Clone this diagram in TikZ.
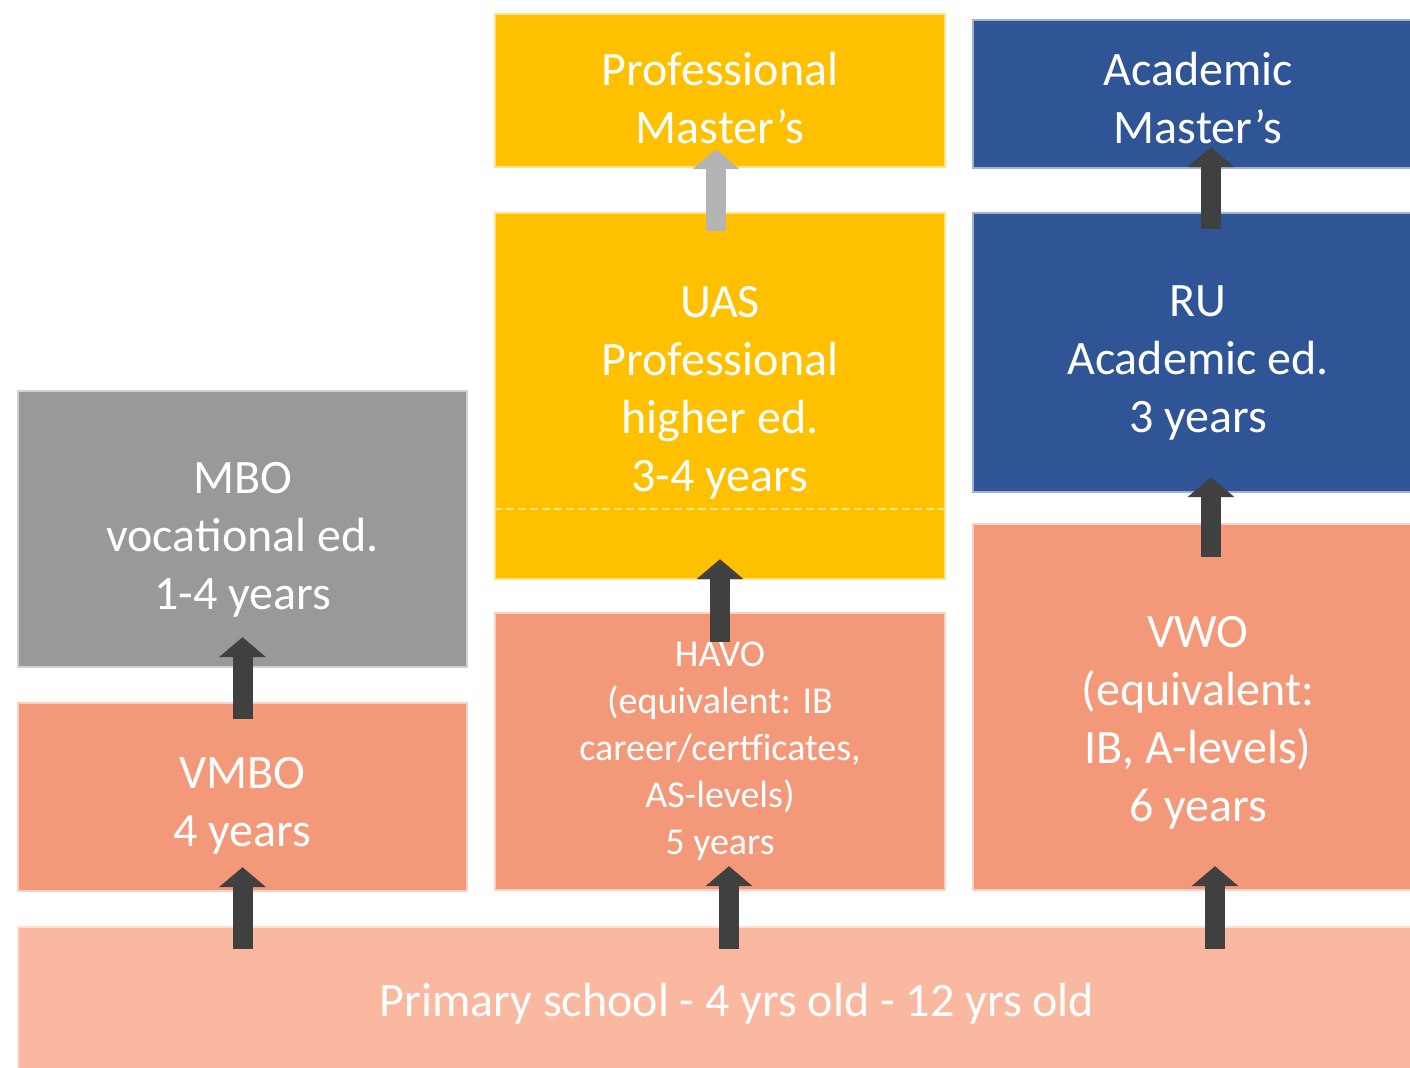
\documentclass[tikz,border=0pt]{standalone}
\usepackage{fontspec}
\setmainfont{Carlito}
\usetikzlibrary{arrows.meta}

\definecolor{primfill}{HTML}{FAB8A0}
\definecolor{salmon}{HTML}{F3997A}
\definecolor{mbogray}{HTML}{999999}
\definecolor{gold}{HTML}{FFC000}
\definecolor{navy}{HTML}{2F5597}
\definecolor{arrowdark}{HTML}{404040}
\definecolor{arrowlight}{HTML}{B4B4B4}

\tikzset{
    x=0.5pt, y=-0.5pt,
    box/.style={draw=#1!45!white, fill=#1, line width=1.2pt,
        inner sep=0pt, minimum width=225pt},
    boxtext/.style={text=white, align=center, inner sep=0pt,
        font=\fontsize{24}{29}\selectfont},
    uparrow/.style={line width=10pt, draw=#1,
        -{Triangle[width=23pt, length=10pt]}},
    uparrow/.default=arrowdark
}

\begin{document}
\begin{tikzpicture}
        \useasboundingbox (0,0) rectangle (1410,1068);
        \clip (0,0) rectangle (1410,1068);
        \node [box=primfill, minimum width=719pt, minimum height=76.5pt] (prim) at (737,1003.5) {};
        \node [box=salmon, minimum width=224.5pt, minimum height=94pt] (vmbo) at (242.5,797) {};
        \node [box=mbogray, minimum width=224.5pt, minimum height=138pt] (mbo) at (242.5,529) {};
        \node [box=salmon, minimum height=138.5pt] (havo) at (720,751.5) {};
        \node [box=gold, minimum height=183pt] (uas) at (720,396) {};
        \node [box=gold, minimum height=76.5pt] (pm) at (720,90.5) {};
        \node [box=salmon, minimum height=183pt] (vwo) at (1198,707) {};
        \node [box=navy, minimum height=139.5pt] (ru) at (1198,352.5) {};
        \node [box=navy, minimum height=74pt] (am) at (1198,94) {};

        % texts, set a little low as in the slide
        \node [boxtext] (primtext) at (prim.center) {Primary school - 4 yrs old - 12 yrs old};
        \node [boxtext] (vmbotext) at ([yshift=-4.5pt]vmbo.center) {VMBO\\4 years};
        \node [boxtext] (mbotext) at ([yshift=-5.5pt]mbo.center) {MBO\\vocational ed.\\1-4 years};
        \node [boxtext, font=\fontsize{19}{23.5}\selectfont] (havotext) at (havo.center)
            {HAVO\\(equivalent: IB\\career/certficates,\\AS-levels)\\5 years};
        \node [boxtext] (uastext) at ([yshift=1.5pt]uas.center) {UAS\\Professional\\higher ed.\\3-4 years};
        \node [boxtext] (pmtext) at ([yshift=-4pt]pm.center) {Professional\\Master’s};
        \node [boxtext] (vwotext) at ([yshift=-8pt]vwo.center) {VWO\\(equivalent:\\IB, A-levels)\\6 years};
        \node [boxtext] (rutext) at ([yshift=-5pt]ru.center) {RU\\Academic ed.\\3 years};
        \node [boxtext] (amtext) at ([yshift=-2pt]am.center) {Academic\\Master’s};

        % split line in the UAS box
        \draw [gold!45!white, line width=1.2pt, dash pattern=on 4pt off 2pt]
            ([yshift=35.5pt]uas.south west) -- ([yshift=35.5pt]uas.south east);

        \draw [uparrow] ([yshift=-11.5pt]prim.north -| vmbo) -- ([yshift=12.5pt]vmbo.south);
        \draw [uparrow] ([xshift=4.5pt,yshift=-11.5pt]prim.north -| havo) -- ([xshift=4.5pt,yshift=12.5pt]havo.south);
        \draw [uparrow] ([xshift=8.5pt,yshift=-11.5pt]prim.north -| vwo) -- ([xshift=8.5pt,yshift=12.5pt]vwo.south);
        \draw [uparrow] ([yshift=-8.5pt]vmbo.north) -- ([yshift=15.5pt]mbo.south);
        \draw [uparrow] ([yshift=-15pt]havo.north) -- ([yshift=10.5pt]uas.south);
        \draw [uparrow=arrowlight] ([xshift=-2pt,yshift=-9.5pt]uas.north) -- ([xshift=-2pt,yshift=9.5pt]pm.south);
        \draw [uparrow] ([xshift=6.5pt,yshift=-17pt]vwo.north) -- ([xshift=6.5pt,yshift=8pt]ru.south);
        \draw [uparrow] ([xshift=6.5pt,yshift=-8.5pt]ru.north) -- ([xshift=6.5pt,yshift=11pt]am.south);
    \end{tikzpicture}
\end{document}
